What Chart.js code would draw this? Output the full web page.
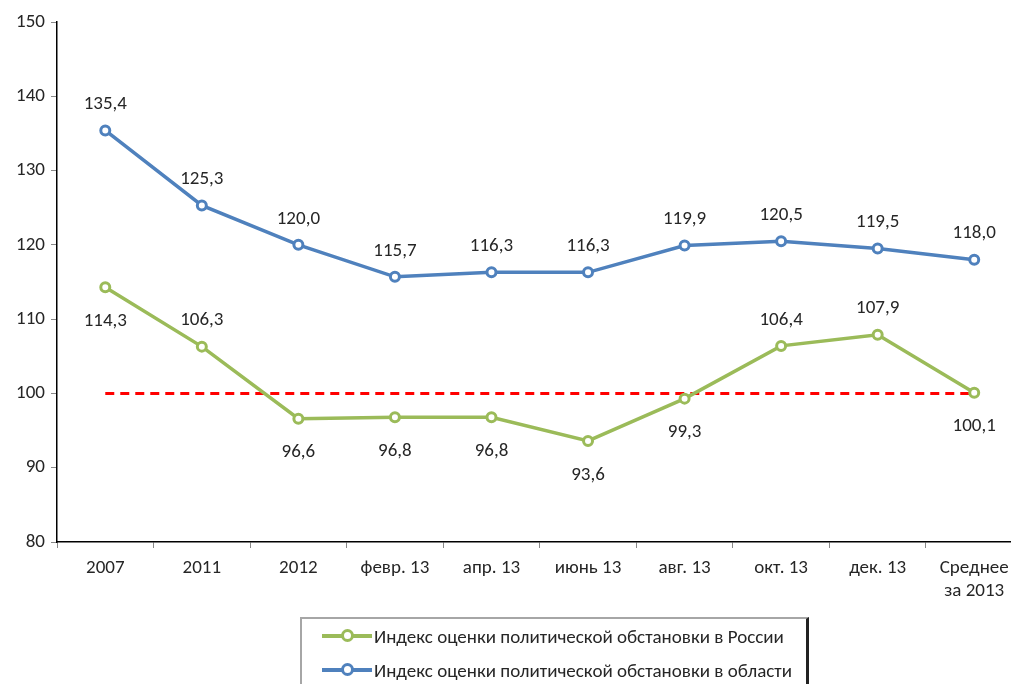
<!DOCTYPE html>
<html><head><meta charset="utf-8">
<script src="https://cdn.jsdelivr.net/npm/chart.js@4"></script>
<style>
html,body{margin:0;padding:0;background:#fff;overflow:hidden;width:1011px;height:684px;}
#wrap{position:absolute;left:0;top:0;width:1030px;height:684px;}
#legend{position:absolute;left:300px;top:617px;width:509px;height:80px;border:2px solid #a6a6a6;border-right:3px solid #222;box-sizing:border-box;font-family:Carlito,"Open Sans","Noto Sans",sans-serif;font-size:19px;color:#262626;}
.row{position:absolute;left:20px;height:22px;display:flex;align-items:center;white-space:nowrap;}
.sw{position:relative;width:50px;height:22px;margin-right:2px;}
.sw .ln{position:absolute;left:0;top:9px;width:50px;height:3.5px;}
.sw .mk{position:absolute;left:19px;top:4px;width:7px;height:7px;border-radius:50%;background:#fff;border:3px solid;}
</style></head>
<body>
<div id="wrap"><canvas id="c" width="1030" height="684"></canvas></div>
<div id="legend">
 <div class="row" style="top:6px"><div class="sw"><div class="ln" style="background:#9bbb59"></div><div class="mk" style="border-color:#9bbb59"></div></div><span>Индекс оценки политической обстановки в России</span></div>
 <div class="row" style="top:40px"><div class="sw"><div class="ln" style="background:#4f81bd"></div><div class="mk" style="border-color:#4f81bd"></div></div><span>Индекс оценки политической обстановки в области</span></div>
</div>
<script>
const categories = ["2007","2011","2012","февр. 13","апр. 13","июнь 13","авг. 13","окт. 13","дек. 13",["Среднее","за 2013"]];
const russia = [114.3,106.3,96.6,96.8,96.8,93.6,99.3,106.4,107.9,100.1];
const region = [135.4,125.3,120.0,115.7,116.3,116.3,119.9,120.5,119.5,118.0];
const baseline = [100,100,100,100,100,100,100,100,100,100];
const russiaLabelAbove = [false,true,false,false,false,false,false,true,true,false];
const yTicks = [80,90,100,110,120,130,140,150];

const FONT = 'Carlito, "Open Sans", "Noto Sans", sans-serif';
const labelPlugin = {
  id:'vals',
  afterDatasetsDraw(chart){
    const ctx = chart.ctx;
    ctx.save();
    ctx.font = '19px ' + FONT;
    ctx.fillStyle = '#262626';
    ctx.textAlign = 'center';
    ctx.textBaseline = 'middle';
    [0,1].forEach(di=>{
      const meta = chart.getDatasetMeta(di);
      const data = chart.data.datasets[di].data;
      meta.data.forEach((pt,i)=>{
        let above = di===1 ? true : russiaLabelAbove[i];
        const y = above ? pt.y - 26 : pt.y + 34;
        ctx.fillText(data[i].toFixed(1).replace('.',','), pt.x, y);
      });
    });
    ctx.restore();
  }
};

new Chart(document.getElementById('c'),{
  type:'line',
  data:{labels:categories,datasets:[
    {label:'Индекс оценки политической обстановки в России',data:russia,borderColor:'#9bbb59',backgroundColor:'#fff',borderWidth:3.5,pointRadius:4.5,pointBorderWidth:3,pointBackgroundColor:'#fff',pointBorderColor:'#9bbb59',tension:0,order:2},
    {label:'Индекс оценки политической обстановки в области',data:region,borderColor:'#4f81bd',backgroundColor:'#fff',borderWidth:3.5,pointRadius:4.5,pointBorderWidth:3,pointBackgroundColor:'#fff',pointBorderColor:'#4f81bd',tension:0,order:1},
    {label:'base',data:baseline,borderColor:'#ff0000',borderWidth:3,borderDash:[9,6],pointRadius:0,tension:0,order:3}
  ]},
  options:{
    responsive:false,animation:false,
    layout:{padding:{top:22,right:7,left:0,bottom:0}},
    plugins:{legend:{display:false},tooltip:{enabled:false}},
    scales:{
      x:{offset:true,
        grid:{display:true,drawOnChartArea:false,offset:true,tickLength:6,color:'#888',tickColor:'#888'},
        border:{display:true,color:'#000',width:1.5},
        ticks:{color:'#262626',font:{family:FONT,size:19,lineHeight:1.2},padding:9,maxRotation:0,autoSkip:false},
        afterFit(s){s.height=142;}
      },
      y:{min:80,max:150,
        afterBuildTicks(s){s.ticks=yTicks.map(v=>({value:v}));},
        grid:{display:true,drawOnChartArea:false,tickLength:6,color:'#888',tickColor:'#888'},
        border:{display:true,color:'#000',width:1.5},
        ticks:{color:'#262626',font:{family:FONT,size:19},padding:6},
        afterFit(s){s.width=57;}
      }
    }
  },
  plugins:[labelPlugin]
});
</script>
</body></html>
